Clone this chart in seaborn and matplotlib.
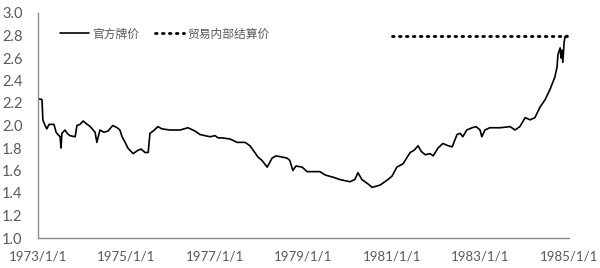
import numpy as np
import pandas as pd
import matplotlib
matplotlib.use("Agg")
import matplotlib.pyplot as plt
import matplotlib.dates as mdates
import seaborn as sns

# ---- data ----
official_years = [
    1973.00, 1973.09, 1973.11, 1973.16, 1973.20, 1973.25, 1973.36, 1973.41, 1973.45, 1973.50,
    1973.52, 1973.54, 1973.61, 1973.66, 1973.72, 1973.84, 1973.88, 1973.95, 1974.02, 1974.08,
    1974.18, 1974.29, 1974.33, 1974.40, 1974.49, 1974.58, 1974.69, 1974.79, 1974.85, 1974.90,
    1974.97, 1975.03, 1975.15, 1975.26, 1975.33, 1975.42, 1975.49, 1975.53, 1975.60, 1975.71,
    1975.80, 1975.98, 1976.21, 1976.39, 1976.55, 1976.66, 1976.77, 1976.89, 1977.00, 1977.07,
    1977.16, 1977.34, 1977.50, 1977.68, 1977.79, 1977.90, 1977.97, 1978.06, 1978.18, 1978.29,
    1978.38, 1978.51, 1978.63, 1978.69, 1978.76, 1978.83, 1978.97, 1979.08, 1979.26, 1979.37,
    1979.49, 1979.67, 1979.82, 1980.05, 1980.16, 1980.23, 1980.32, 1980.46, 1980.55, 1980.64,
    1980.73, 1980.91, 1981.00, 1981.11, 1981.25, 1981.41, 1981.50, 1981.59, 1981.66, 1981.75,
    1981.86, 1981.93, 1982.04, 1982.15, 1982.27, 1982.36, 1982.47, 1982.54, 1982.60, 1982.69,
    1982.81, 1982.90, 1982.99, 1983.03, 1983.10, 1983.21, 1983.44, 1983.67, 1983.78, 1983.89,
    1984.01, 1984.12, 1984.23, 1984.34, 1984.46, 1984.57, 1984.64, 1984.68, 1984.73, 1984.75,
    1984.80, 1984.82, 1984.84, 1984.86, 1984.89, 1984.91, 1984.96,
]
official_values = [
    2.24, 2.23, 2.05, 2.00, 1.97, 2.01, 2.01, 1.94, 1.92, 1.90,
    1.80, 1.93, 1.96, 1.93, 1.91, 1.90, 2.00, 2.01, 2.04, 2.02,
    1.99, 1.94, 1.85, 1.96, 1.94, 1.95, 2.00, 1.98, 1.96, 1.90,
    1.85, 1.80, 1.75, 1.78, 1.79, 1.76, 1.76, 1.93, 1.95, 1.99,
    1.97, 1.96, 1.96, 1.98, 1.95, 1.92, 1.91, 1.90, 1.91, 1.89,
    1.89, 1.88, 1.85, 1.85, 1.82, 1.76, 1.72, 1.69, 1.63, 1.71,
    1.73, 1.72, 1.71, 1.69, 1.60, 1.64, 1.63, 1.59, 1.59, 1.59,
    1.56, 1.54, 1.52, 1.50, 1.52, 1.58, 1.52, 1.48, 1.45, 1.46,
    1.47, 1.52, 1.55, 1.63, 1.66, 1.76, 1.78, 1.82, 1.77, 1.74,
    1.75, 1.73, 1.80, 1.84, 1.82, 1.81, 1.92, 1.93, 1.90, 1.96,
    1.98, 1.99, 1.96, 1.90, 1.96, 1.98, 1.98, 1.99, 1.96, 1.99,
    2.07, 2.05, 2.07, 2.16, 2.23, 2.32, 2.39, 2.43, 2.52, 2.63,
    2.69, 2.60, 2.67, 2.56, 2.74, 2.79, 2.80,
]
internal_years = [1981.00, 1984.96]
internal_values = [2.80, 2.80]

series_labels = ["官方牌价", "贸易内部结算价"]
tick_years = [1973, 1975, 1977, 1979, 1981, 1983, 1985]
tick_labels = ["1973/1/1", "1975/1/1", "1977/1/1", "1979/1/1", "1981/1/1", "1983/1/1", "1985/1/1"]
y_ticks = [1.0, 1.2, 1.4, 1.6, 1.8, 2.0, 2.2, 2.4, 2.6, 2.8, 3.0]


def to_dates(years):
    base = pd.Timestamp("1973-01-01")
    return [base + pd.Timedelta(days=(y - 1973) * 365.25) for y in years]


df_off = pd.DataFrame({"date": to_dates(official_years), "value": official_values})
df_int = pd.DataFrame({"date": to_dates(internal_years), "value": internal_values})

sns.set_style("white")
plt.rcParams["font.family"] = ["Lato", "DejaVu Sans"]

fig = plt.figure(figsize=(6.0, 2.68), dpi=100)
ax = fig.add_axes([38 / 600, 1 - 238 / 268, (569 - 38) / 600, (238 - 13) / 268])

sns.lineplot(data=df_off, x="date", y="value", ax=ax, color="black", linewidth=1.2,
             label=series_labels[0])
sns.lineplot(data=df_int, x="date", y="value", ax=ax, color="black", linewidth=2.0,
             linestyle=(0, (0.6, 1.9)), dash_capstyle="round", label=series_labels[1])

ax.set_xlim(pd.Timestamp("1973-01-01"), pd.Timestamp("1985-01-01"))
ax.set_ylim(1.0, 3.0)
tick_dates = [mdates.date2num(pd.Timestamp(f"{y}-01-01")) for y in tick_years]
ax.set_xticks(tick_dates)
ax.set_xticklabels(tick_labels)
ax.set_yticks(y_ticks)
ax.set_yticklabels([f"{v:.1f}" for v in y_ticks])
ax.set_xlabel("")
ax.set_ylabel("")

for s in ["top", "right"]:
    ax.spines[s].set_visible(False)
for s in ["left", "bottom"]:
    ax.spines[s].set_color("#8c8c8c")
    ax.spines[s].set_linewidth(1.0)

ax.tick_params(axis="both", direction="in", length=4, width=1.0, color="#8c8c8c",
               labelcolor="#595959")
ax.tick_params(axis="x", pad=9, labelsize=9.5)
ax.tick_params(axis="y", pad=11, labelsize=10.5)

leg = ax.legend(loc="upper left", bbox_to_anchor=(0.041, 0.935), ncol=2, frameon=False,
                borderpad=0, borderaxespad=0,
                prop={"family": ["Noto Sans CJK SC", "DejaVu Sans"], "size": 8.5},
                handlelength=2.5, columnspacing=1.3, handletextpad=0.25)
for t in leg.get_texts():
    t.set_color("#595959")

fig.savefig("out.png", dpi=100)
